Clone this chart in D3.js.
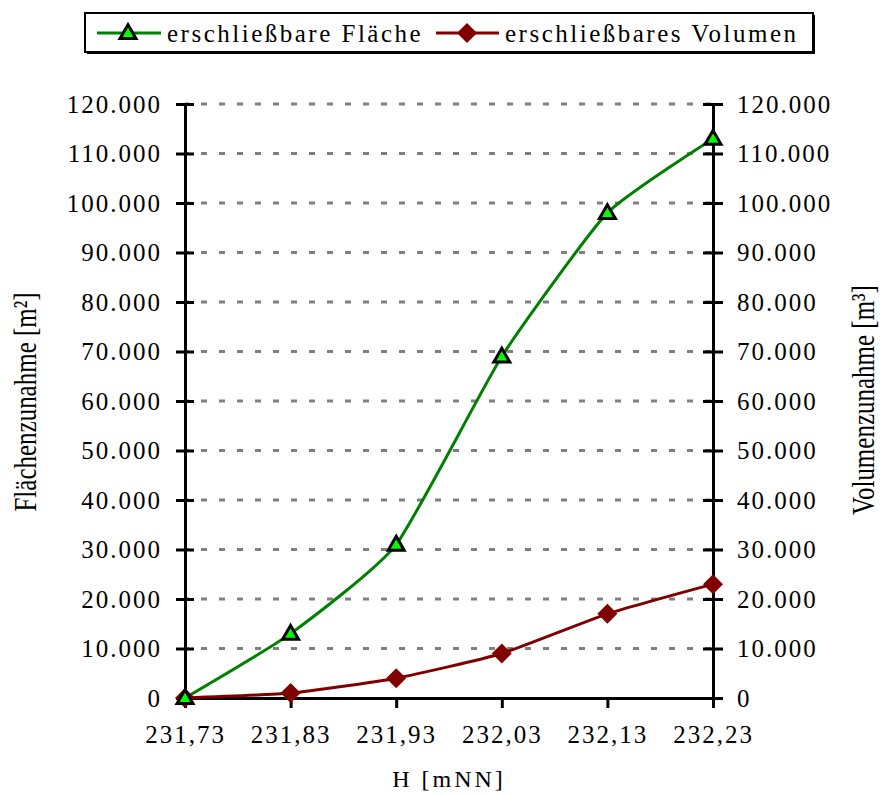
<!DOCTYPE html>
<html>
<head>
<meta charset="utf-8">
<script src="https://cdn.jsdelivr.net/npm/d3@7"></script>
<style>
  body { margin: 0; background: #fff; }
  text { font-family: "Liberation Serif", "Times New Roman", serif; fill: #000; }
</style>
</head>
<body>
<div id="chart"></div>
<script>
// data
var heights = [231.73, 231.83, 231.93, 232.03, 232.13, 232.23]
var flaeche = [0, 13000, 31000, 69000, 98000, 113000]
var volumen = [0, 1000, 4000, 9000, 17000, 23000]
var yTicks = [0, 10000, 20000, 30000, 40000, 50000, 60000, 70000, 80000, 90000, 100000, 110000, 120000]
var seriesNames = ['erschließbare Fläche', 'erschließbares Volumen']

var width = 882, height = 795
var plot = {left: 185, right: 713, top: 104, bottom: 698}

var de = d3.formatLocale({decimal: ',', thousands: '.', grouping: [3], currency: ['', ' €']})
var fmtY = de.format(',.0f')
var fmtX = de.format('.2f')

var x = d3.scaleLinear().domain([231.73, 232.23]).range([plot.left, plot.right])
var y = d3.scaleLinear().domain([0, 120000]).range([plot.bottom, plot.top])
var y2 = d3.scaleLinear().domain([0, 120000]).range([plot.bottom, plot.top])

var svg = d3.select('#chart').append('svg')
  .attr('width', width)
  .attr('height', height)

// grid lines
svg.append('g')
  .selectAll('line')
  .data(yTicks.filter(function(d) { return d > 0 }))
  .enter().append('line')
  .attr('x1', plot.left)
  .attr('x2', plot.right)
  .attr('y1', function(d) { return y(d) })
  .attr('y2', function(d) { return y(d) })
  .attr('stroke', '#808080')
  .attr('stroke-width', 3)
  .attr('stroke-dasharray', '6,12')
  .attr('stroke-dashoffset', 2)

function styleAxis(g) {
  g.select('.domain').attr('stroke', '#000').attr('stroke-width', 3)
  g.selectAll('.tick line').attr('stroke', '#000').attr('stroke-width', 3)
  g.selectAll('.tick text')
    .style('font-size', '25px')
    .style('letter-spacing', '2px')
    .style('font-family', '"Liberation Serif", serif')
    .attr('fill', '#000')
}

// left axis
var yAxisL = d3.axisLeft(y).tickValues(yTicks).tickFormat(fmtY).tickSizeOuter(0).tickSize(9).tickPadding(14)
svg.append('g')
  .attr('class', 'y axis')
  .attr('transform', 'translate(' + plot.left + ',0)')
  .call(yAxisL)
  .call(styleAxis)
  .call(function(g) { g.selectAll('.tick line').attr('x2', 9).attr('x1', -9) })

// right axis
var yAxisR = d3.axisRight(y2).tickValues(yTicks).tickFormat(fmtY).tickSizeOuter(0).tickSize(10).tickPadding(14)
svg.append('g')
  .attr('class', 'y2 axis')
  .attr('transform', 'translate(' + plot.right + ',0)')
  .call(yAxisR)
  .call(styleAxis)
  .call(function(g) { g.selectAll('.tick line').attr('x1', -10).attr('x2', 10) })

// bottom axis
var xAxis = d3.axisBottom(x).tickValues(heights).tickFormat(fmtX).tickSizeOuter(0).tickSize(10).tickPadding(17)
svg.append('g')
  .attr('class', 'x axis')
  .attr('transform', 'translate(0,' + plot.bottom + ')')
  .call(xAxis)
  .call(styleAxis)
  .call(function(g) { g.selectAll('.tick line').attr('y1', 0).attr('y2', 10) })

// axis titles (the source image is stretched sideways, so the rotated glyphs are widened)
svg.append('text')
  .attr('transform', 'translate(36,402) rotate(-90) scale(1,1.25)')
  .attr('text-anchor', 'middle')
  .style('font-size', '25px')
  .text('Flächenzunahme [m²]')

svg.append('text')
  .attr('transform', 'translate(874,400) rotate(-90) scale(1,1.25)')
  .attr('text-anchor', 'middle')
  .style('font-size', '25px')
  .text('Volumenzunahme [m³]')

svg.append('text')
  .attr('x', 449)
  .attr('y', 787)
  .attr('text-anchor', 'middle')
  .style('font-size', '24px')
  .style('letter-spacing', '3px')
  .text('H [mNN]')

// lines
var line = d3.line()
  .x(function(d, i) { return x(heights[i]) })
  .y(function(d) { return y(d) })
  .curve(d3.curveCardinal.tension(0.5))

svg.append('path')
  .datum(volumen)
  .attr('fill', 'none')
  .attr('stroke', '#800000')
  .attr('stroke-width', 3)
  .attr('d', line)

svg.append('path')
  .datum(flaeche)
  .attr('fill', 'none')
  .attr('stroke', '#008000')
  .attr('stroke-width', 3)
  .attr('d', line)

var tri = d3.symbol().type(d3.symbolTriangle).size(110)
var dia = 'M0,-10L10,0L0,10L-10,0Z'

svg.append('g')
  .selectAll('path')
  .data(volumen)
  .enter().append('path')
  .attr('transform', function(d, i) { return 'translate(' + x(heights[i]) + ',' + y(d) + ')' })
  .attr('d', dia)
  .attr('fill', '#800000')

svg.append('g')
  .selectAll('path')
  .data(flaeche)
  .enter().append('path')
  .attr('transform', function(d, i) { return 'translate(' + x(heights[i]) + ',' + (y(d) + 1) + ')' })
  .attr('d', tri)
  .attr('fill', '#00ff00')
  .attr('stroke', '#000')
  .attr('stroke-width', 3)

// legend
var legend = svg.append('g')
legend.append('rect')
  .attr('x', 87).attr('y', 15).attr('width', 728).attr('height', 39)
  .attr('fill', '#000')
legend.append('rect')
  .attr('x', 85).attr('y', 13).attr('width', 728).attr('height', 39)
  .attr('fill', '#fff').attr('stroke', '#000').attr('stroke-width', 2)

legend.append('line')
  .attr('x1', 97).attr('x2', 161).attr('y1', 33).attr('y2', 33)
  .attr('stroke', '#008000').attr('stroke-width', 3)
legend.append('path')
  .attr('transform', 'translate(128,34)')
  .attr('d', tri)
  .attr('fill', '#00ff00').attr('stroke', '#000').attr('stroke-width', 3)
legend.append('text')
  .attr('x', 167).attr('y', 42)
  .style('font-size', '25px').style('letter-spacing', '2.5px')
  .text(seriesNames[0])

legend.append('line')
  .attr('x1', 436).attr('x2', 499).attr('y1', 33).attr('y2', 33)
  .attr('stroke', '#800000').attr('stroke-width', 3)
legend.append('path')
  .attr('transform', 'translate(467,33)')
  .attr('d', dia)
  .attr('fill', '#800000')
legend.append('text')
  .attr('x', 505).attr('y', 42)
  .style('font-size', '25px').style('letter-spacing', '2.5px')
  .text(seriesNames[1])
</script>
</body>
</html>
